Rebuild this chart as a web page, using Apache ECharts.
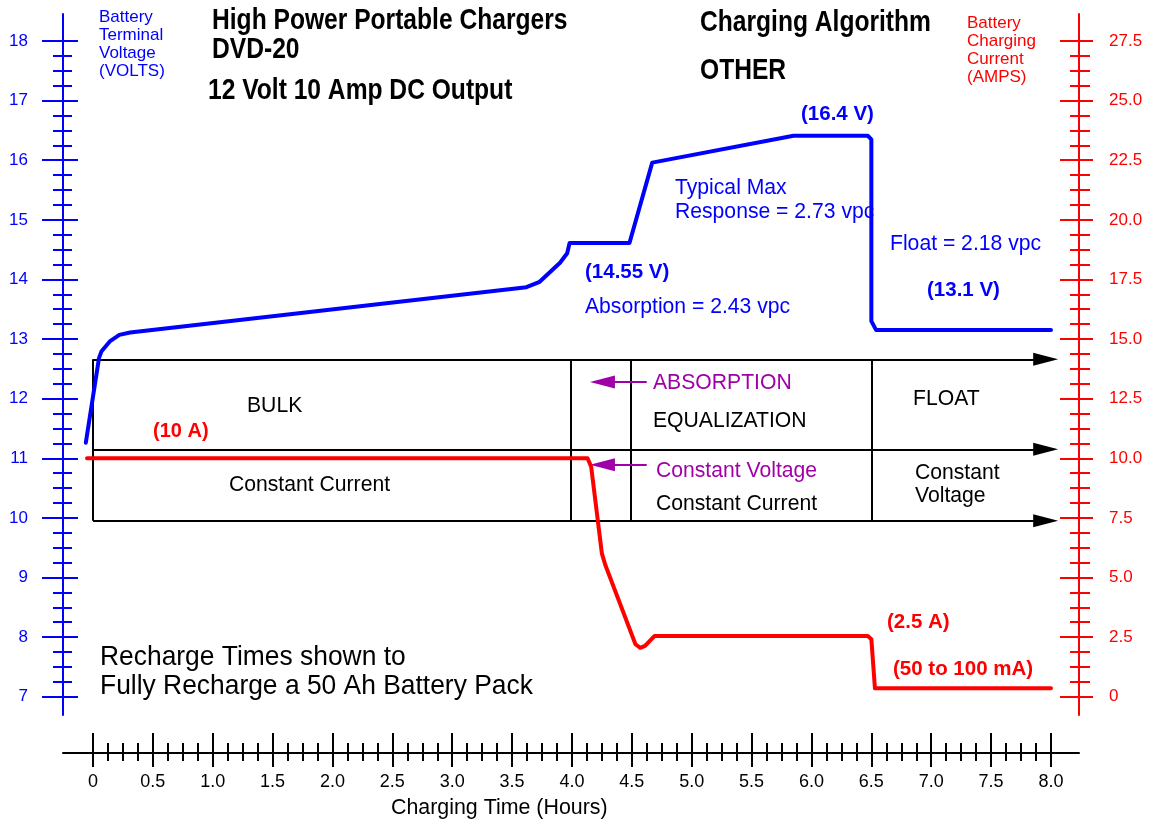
<!DOCTYPE html>
<html><head><meta charset="utf-8">
<script src="https://cdn.jsdelivr.net/npm/echarts@6/dist/echarts.min.js"></script>
<style>html,body{margin:0;padding:0;background:#fff}#c{width:1151px;height:825px}</style>
</head><body><div id="c"></div>
<script>
// ---- data (hours, volts, amps) ----
const timeVolt = [-0.06, 0.05, 0.07, 0.14, 0.22, 0.31, 3.62, 3.73, 3.90, 3.96, 3.98, 4.48, 4.67, 5.85, 6.47, 6.50, 6.50, 6.54, 8.00];
const voltage  = [11.26, 12.68, 12.79, 12.96, 13.07, 13.11, 13.87, 13.96, 14.28, 14.44, 14.61, 14.61, 15.96, 16.41, 16.41, 16.35, 13.30, 13.15, 13.15];
const timeAmp  = [-0.05, 4.13, 4.16, 4.25, 4.28, 4.53, 4.57, 4.61, 4.69, 6.47, 6.50, 6.53, 8.00];
const current  = [10.0, 10.0, 9.65, 6.0, 5.5, 2.2, 2.05, 2.13, 2.55, 2.55, 2.41, 0.35, 0.35];
const voltTicks = [7, 8, 9, 10, 11, 12, 13, 14, 15, 16, 17, 18];
const ampTicks  = [0, 2.5, 5, 7.5, 10, 12.5, 15, 17.5, 20, 22.5, 25, 27.5];
const hourTicks = [0, 0.5, 1, 1.5, 2, 2.5, 3, 3.5, 4, 4.5, 5, 5.5, 6, 6.5, 7, 7.5, 8];
// phase table (volts for rows, hours for dividers)
const boxRows = [12.66, 11.15, 9.95];
const boxDividers = [0, 3.99, 4.49, 6.50];
const boxArrowTip = 8.06;
const pointerRows = [12.28, 10.89];
const pointerFrom = 4.624, pointerTip = 4.15;

// ---- layout ----
const BLUE = '#0000ff', RED = '#ff0000', MAG = '#a000a8', BLACK = '#000000';
const FONT = '"Liberation Sans", Arial, Helvetica, sans-serif';
const VMIN = 6.693, VMAX = 18.453;
const AMIN = (VMIN - 7) * 2.5, AMAX = (VMAX - 7) * 2.5;
const XMIN = -0.2505, XMAX = 8.234;
const G = {left: 63, right: 72, top: 14, bottom: 110};
const pxPerHour = (1151 - G.left - G.right) / (XMAX - XMIN);
const headHalf = 12.5 / pxPerHour;

function minorOf(majors, parts) {
  const out = [];
  for (let i = 0; i < majors.length - 1; i++) {
    const s = (majors[i + 1] - majors[i]) / parts;
    for (let k = 1; k < parts; k++) out.push(+(majors[i] + k * s).toFixed(5));
  }
  return out;
}
const voltMinor = minorOf(voltTicks, 4), ampMinor = minorOf(ampTicks, 4), hourMinor = minorOf(hourTicks, 4);

function tickAxis(base, values, len, inside, color, showLine) {
  return Object.assign({}, base, {
    axisLine: {show: !!showLine, onZero: false, lineStyle: {color, width: 2}},
    axisTick: {show: true, customValues: values, inside, length: len, lineStyle: {color, width: 2}},
    axisLabel: {show: false},
    splitLine: {show: false}
  });
}
const vBase = {type: 'value', gridIndex: 0, position: 'left', min: VMIN, max: VMAX};
const aBase = {type: 'value', gridIndex: 0, position: 'right', min: AMIN, max: AMAX};
const xBase = {type: 'value', gridIndex: 0, position: 'bottom', offset: 38, min: XMIN, max: XMAX};

const yAxis = [
  Object.assign(tickAxis(vBase, voltTicks, 21, false, BLUE, true),
    {axisLabel: {show: true, customValues: voltTicks, color: BLUE, fontSize: 17, fontFamily: FONT, margin: 35, formatter: v => String(v)}}),
  tickAxis(vBase, voltTicks, 15, true, BLUE),
  tickAxis(vBase, voltMinor, 10, false, BLUE),
  tickAxis(vBase, voltMinor, 9, true, BLUE),
  Object.assign(tickAxis(aBase, ampTicks, 14, false, RED, true),
    {axisLabel: {show: true, customValues: ampTicks, color: RED, fontSize: 17, fontFamily: FONT, margin: 30, formatter: v => v === 0 ? '0' : v.toFixed(1)}}),
  tickAxis(aBase, ampTicks, 19, true, RED),
  tickAxis(aBase, ampMinor, 11, false, RED),
  tickAxis(aBase, ampMinor, 9, true, RED)
];
const xAxis = [
  Object.assign(tickAxis(xBase, hourTicks, 14, false, BLACK, true),
    {axisLabel: {show: true, customValues: hourTicks, color: BLACK, fontSize: 18, fontFamily: FONT, margin: 20, formatter: v => v === 0 ? '0' : v.toFixed(1)}}),
  tickAxis(xBase, hourTicks, 20, true, BLACK),
  tickAxis(xBase, hourMinor, 8, false, BLACK),
  tickAxis(xBase, hourMinor, 10, true, BLACK)
];

const zip = (a, b) => a.map((v, i) => [v, b[i]]);

const boxLines = boxRows.map(r => ({coords: [[0, r], [boxArrowTip - headHalf, r]]}));
const boxVerticals = boxDividers.map(d => ({coords: [[d, boxRows[0]], [d, boxRows[2]]]}));
const pointers = pointerRows.map(r => ({coords: [[pointerFrom, r], [pointerTip + headHalf, r]]}));

function T(text, x, y, o) {
  o = o || {};
  return {type: 'text', x, y, z: 100, silent: true, scaleX: o.sx || 1,
    style: {text, fill: o.c || BLACK, fontSize: o.fs || 22.5, fontWeight: o.b ? 'bold' : 'normal',
      fontFamily: FONT, align: 'left', verticalAlign: o.va || 'middle', lineHeight: o.lh}};
}
const R = 0.94; // slight horizontal condensing of regular annotation text
const texts = [
  T('High Power Portable Chargers', 212, 21, {fs: 30, b: 1, sx: 0.82}),
  T('DVD-20', 212, 50, {fs: 30, b: 1, sx: 0.82}),
  T('12 Volt 10 Amp DC Output', 208, 91, {fs: 30, b: 1, sx: 0.82}),
  T('Charging Algorithm', 700, 23, {fs: 30, b: 1, sx: 0.82}),
  T('OTHER', 700, 71, {fs: 30, b: 1, sx: 0.82}),
  T('Battery\nTerminal\nVoltage\n(VOLTS)', 99, 8, {fs: 17, c: BLUE, va: 'top', lh: 18}),
  T('Battery\nCharging\nCurrent\n(AMPS)', 967, 14, {fs: 17, c: RED, va: 'top', lh: 18}),
  T('(16.4 V)', 801, 114, {fs: 20.5, b: 1, c: BLUE}),
  T('Typical Max', 675, 188, {c: BLUE, sx: R}),
  T('Response = 2.73 vpc', 675, 212, {c: BLUE, sx: R}),
  T('(14.55 V)', 585, 272, {fs: 20.5, b: 1, c: BLUE}),
  T('Absorption = 2.43 vpc', 585, 307, {c: BLUE, sx: R}),
  T('Float = 2.18 vpc', 890, 244, {c: BLUE, sx: R}),
  T('(13.1 V)', 927, 290, {fs: 20.5, b: 1, c: BLUE}),
  T('ABSORPTION', 653, 383, {c: MAG, sx: R}),
  T('EQUALIZATION', 653, 421, {sx: R}),
  T('Constant Voltage', 656, 471, {c: MAG, sx: R}),
  T('Constant Current', 656, 504, {sx: R}),
  T('FLOAT', 913, 399, {sx: R}),
  T('Constant\nVoltage', 915, 461, {va: 'top', lh: 23.5, sx: R}),
  T('BULK', 247, 406, {sx: R}),
  T('(10 A)', 153, 431, {fs: 20, b: 1, c: RED}),
  T('Constant Current', 229, 485, {sx: R}),
  T('(2.5 A)', 887, 622, {fs: 20.5, b: 1, c: RED}),
  T('(50 to 100 mA)', 893, 669, {fs: 20.5, b: 1, c: RED}),
  T('Recharge Times shown to\nFully Recharge a 50 Ah Battery Pack', 100, 643, {fs: 27.5, va: 'top', lh: 29, sx: 0.96}),
  T('Charging Time (Hours)', 391, 808, {fs: 22.5, sx: 0.95})
];

const chart = echarts.init(document.getElementById('c'), null, {renderer: 'canvas'});
chart.setOption({
  animation: false,
  backgroundColor: '#ffffff',
  grid: G,
  xAxis, yAxis,
  series: [
    {type: 'lines', coordinateSystem: 'cartesian2d', xAxisIndex: 0, yAxisIndex: 0, silent: true, z: 2,
      symbol: ['none', 'triangle'], symbolSize: [0, [13, 25]],
      lineStyle: {color: BLACK, width: 2, opacity: 1}, itemStyle: {color: BLACK}, data: boxLines},
    {type: 'lines', coordinateSystem: 'cartesian2d', xAxisIndex: 0, yAxisIndex: 0, silent: true, z: 2,
      symbol: ['none', 'none'], lineStyle: {color: BLACK, width: 2, opacity: 1}, data: boxVerticals},
    {type: 'lines', coordinateSystem: 'cartesian2d', xAxisIndex: 0, yAxisIndex: 0, silent: true, z: 2,
      symbol: ['none', 'triangle'], symbolSize: [0, [13, 25]],
      lineStyle: {color: MAG, width: 2, opacity: 1}, itemStyle: {color: MAG}, data: pointers},
    {type: 'line', xAxisIndex: 0, yAxisIndex: 0, data: zip(timeVolt, voltage), showSymbol: false, symbol: 'none',
      lineStyle: {color: BLUE, width: 4, join: 'round', cap: 'round'}, z: 5},
    {type: 'line', xAxisIndex: 0, yAxisIndex: 4, data: zip(timeAmp, current), showSymbol: false, symbol: 'none',
      lineStyle: {color: RED, width: 4, join: 'round', cap: 'round'}, z: 5}
  ],
  graphic: texts
});
</script></body></html>
